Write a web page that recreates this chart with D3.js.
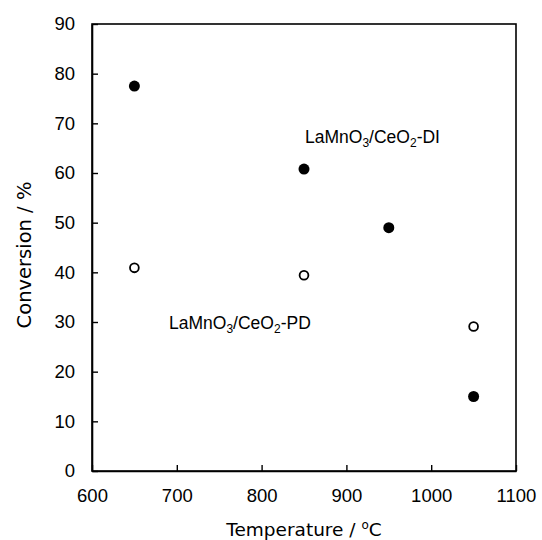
<!DOCTYPE html>
<html>
<head>
<meta charset="utf-8">
<script src="https://cdn.jsdelivr.net/npm/d3@7"></script>
<style>
  body { margin: 0; background: #fff; }
  svg { display: block; }
</style>
</head>
<body>
<script>
// data
var temps = [650, 850, 950, 1050];
var convDI = [77.5, 60.8, 49.0, 15.0];
var tempsPD = [650, 850, 1050];
var convPD = [40.9, 39.4, 29.1];
var xTicks = [600, 700, 800, 900, 1000, 1100];
var yTicks = [0, 10, 20, 30, 40, 50, 60, 70, 80, 90];

(function() {
var W = 542, H = 540;
var pLeft = 92, pRight = 516, pTop = 24, pBottom = 471;

var svg = d3.select("body").append("svg")
    .attr("width", W)
    .attr("height", H);

var x = d3.scaleLinear().domain([600, 1100]).range([pLeft, pRight]);
var y = d3.scaleLinear().domain([0, 90]).range([pBottom, pTop]);

// frame
svg.append("rect")
    .attr("x", pLeft).attr("y", pTop)
    .attr("width", pRight - pLeft).attr("height", pBottom - pTop)
    .attr("fill", "none")
    .attr("stroke", "#000")
    .attr("stroke-width", 1.6);

var xAxis = svg.append("g")
    .attr("transform", "translate(0," + pBottom + ")")
    .call(d3.axisBottom(x).tickValues(xTicks).tickFormat(d3.format("d"))
        .tickSizeInner(-6).tickSizeOuter(0).tickPadding(18));

var yAxis = svg.append("g")
    .attr("transform", "translate(" + pLeft + ",0)")
    .call(d3.axisLeft(y).tickValues(yTicks).tickFormat(d3.format("d"))
        .tickSizeInner(-6).tickSizeOuter(0).tickPadding(17));

[xAxis, yAxis].forEach(function(g) {
    g.select(".domain").attr("stroke-width", 1.6);
    g.selectAll(".tick line").attr("stroke-width", 1.4);
    g.selectAll(".tick text")
        .attr("font-family", "Liberation Sans, Arial, sans-serif")
        .attr("font-size", "18.5px")
        .attr("fill", "#000");
});

// series DI (filled)
svg.selectAll("circle.di")
    .data(temps)
    .enter()
    .append("circle")
    .attr("class", "di")
    .attr("cx", function(d) { return x(d); })
    .attr("cy", function(d, i) { return y(convDI[i]); })
    .attr("r", 5.5)
    .attr("fill", "#000");

// series PD (open)
svg.selectAll("circle.pd")
    .data(tempsPD)
    .enter()
    .append("circle")
    .attr("class", "pd")
    .attr("cx", function(d) { return x(d); })
    .attr("cy", function(d, i) { return y(convPD[i]); })
    .attr("r", 4.4)
    .attr("fill", "#fff")
    .attr("stroke", "#000")
    .attr("stroke-width", 1.8);

// labels
function label(tx, ty, suffix) {
    var t = svg.append("text")
        .attr("x", tx).attr("y", ty)
        .attr("font-family", "Liberation Sans, Arial, sans-serif")
        .attr("font-size", "17.5px")
        .attr("fill", "#000");
    t.append("tspan").text("LaMnO");
    t.append("tspan").attr("font-size", "12px").attr("dy", 4).text("3");
    t.append("tspan").attr("dy", -4).text("/CeO");
    t.append("tspan").attr("font-size", "12px").attr("dy", 4).text("2");
    t.append("tspan").attr("dy", -4).text("-" + suffix);
}
label(305, 143, "DI");
label(169, 329, "PD");

// axis titles
var xt = svg.append("text")
    .attr("x", (pLeft + pRight) / 2)
    .attr("y", 536)
    .attr("text-anchor", "middle")
    .attr("font-family", "DejaVu Sans, Verdana, sans-serif")
    .attr("font-size", "18.5px");
xt.append("tspan").text("Temperature / ");
xt.append("tspan").attr("font-size", "12px").attr("dy", -7).text("o");
xt.append("tspan").attr("dy", 7).text("C");

svg.append("text")
    .attr("transform", "translate(31,255) rotate(-90)")
    .attr("text-anchor", "middle")
    .attr("font-family", "DejaVu Sans, Verdana, sans-serif")
    .attr("font-size", "19.5px")
    .text("Conversion / %");
})();
</script>
</body>
</html>
